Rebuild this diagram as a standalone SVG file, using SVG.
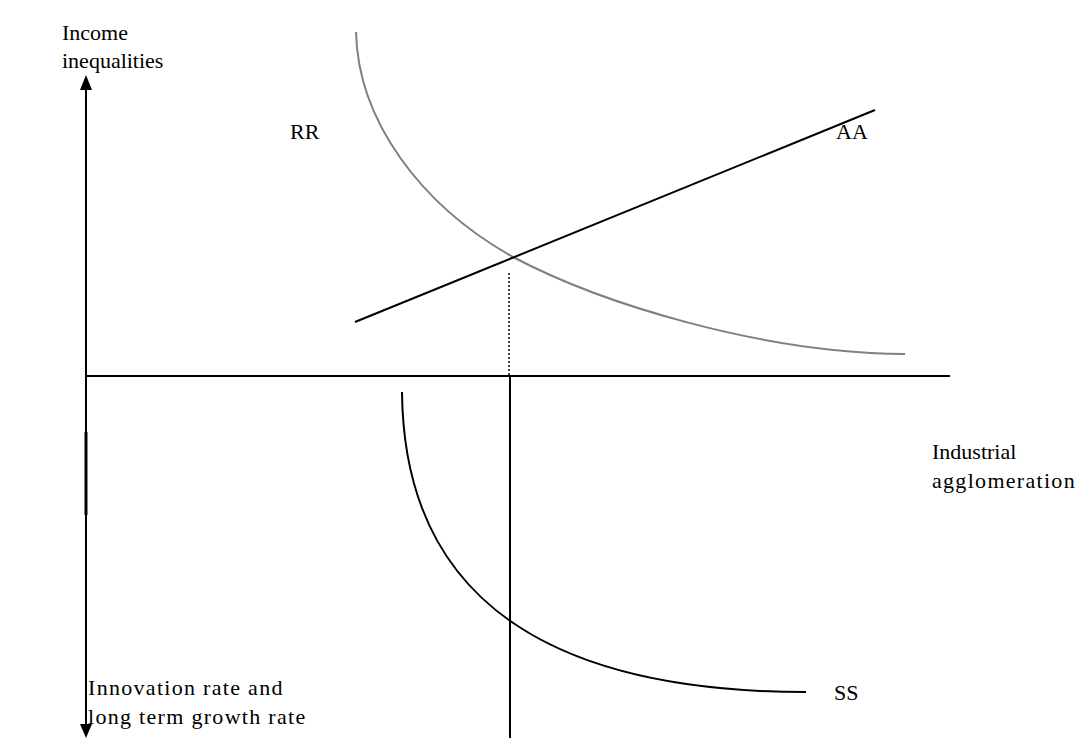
<svg xmlns="http://www.w3.org/2000/svg" width="1085" height="738" viewBox="0 0 1085 738">
<style>
text{font-family:"Liberation Serif","Times New Roman",serif;font-size:22px;fill:#000}
.wide{letter-spacing:1.3px}
.ax{stroke:#000;stroke-width:2;fill:none}
.blk{stroke:#000;stroke-width:2;fill:none}
.gry{stroke:#808080;stroke-width:2;fill:none}
</style>
<rect width="1085" height="738" fill="#fff"/>
<g id="connectors">
<path class="ax" d="M86,376 L86,86"/>
<path d="M80,90 L86,75 L92,90 Z" fill="#000"/>
<path class="ax" d="M86,376 L86,728"/>
<path d="M80,724 L86,738 L92,724 Z" fill="#000"/>
<line x1="86" y1="432" x2="86" y2="515" stroke="#000" stroke-width="3"/>
<line class="ax" x1="86" y1="376" x2="950" y2="376"/>
<line x1="509" y1="273" x2="509" y2="376" stroke="#000" stroke-width="1.5" stroke-dasharray="2,2"/>
<line class="blk" x1="510" y1="376" x2="510" y2="738"/>
</g>
<g id="RR">
<path class="gry" d="M356,32 C358,120 420,205 513,257 C600,303 760,353 905,354"/>
<text x="290" y="139">RR</text>
</g>
<g id="AA">
<line class="blk" x1="355" y1="322" x2="875" y2="110"/>
<text x="836" y="139">AA</text>
</g>
<g id="SS">
<path class="blk" d="M402,392 C404,610 565,692 806,692"/>
<text x="834" y="700">SS</text>
</g>
<g id="labels">
<text x="62" y="40">Income</text>
<text x="62" y="68">inequalities</text>
<text x="932" y="459">Industrial</text>
<text x="932" y="488" class="wide">agglomeration</text>
<text x="88" y="695" class="wide">Innovation rate and</text>
<text x="88" y="724" class="wide">long term growth rate</text>
</g>
</svg>
